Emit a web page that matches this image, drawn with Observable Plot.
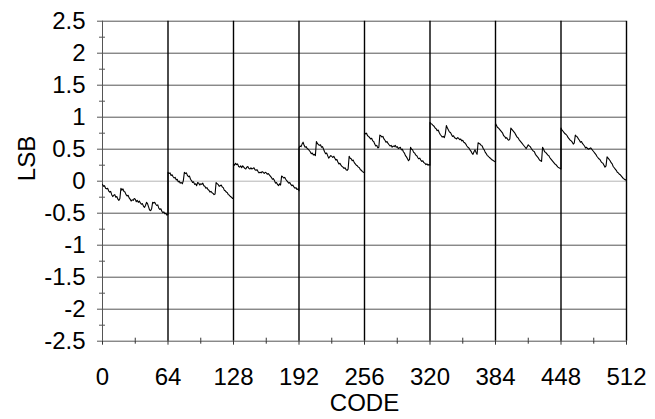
<!DOCTYPE html>
<html>
<head>
<meta charset="utf-8">
<script src="https://cdn.jsdelivr.net/npm/d3@7"></script>
<script src="https://cdn.jsdelivr.net/npm/@observablehq/plot@0.6"></script>
<style>
  html, body { margin: 0; padding: 0; background: #fff; }
</style>
</head>
<body>
<div id="chart"></div>
<script>
// LSB error per CODE; each segment covers 65 consecutive codes
const segStart = [0, 64, 128, 192, 256, 320, 384, 448];
const seg0 = [-0.05,-0.08,-0.07,-0.11,-0.12,-0.11,-0.15,-0.17,-0.16,-0.21,
  -0.24,-0.22,-0.21,-0.25,-0.24,-0.28,-0.30,-0.27,-0.11,-0.14,
  -0.12,-0.16,-0.17,-0.21,-0.23,-0.22,-0.26,-0.28,-0.31,-0.29,
  -0.30,-0.27,-0.28,-0.32,-0.30,-0.33,-0.31,-0.34,-0.36,-0.35,
  -0.39,-0.41,-0.38,-0.33,-0.35,-0.40,-0.45,-0.46,-0.43,-0.33,
  -0.34,-0.33,-0.36,-0.38,-0.37,-0.42,-0.44,-0.43,-0.47,-0.49,
  -0.48,-0.51,-0.50,-0.53,-0.52];
const seg1 = [0.14,0.12,0.13,0.09,0.10,0.07,0.05,0.06,0.02,0.03,
  -0.01,0.00,-0.03,-0.02,-0.04,0.01,0.14,0.12,0.13,0.09,
  0.07,0.08,0.03,0.01,-0.02,-0.01,-0.05,-0.04,-0.07,-0.02,
  -0.03,-0.06,-0.04,-0.05,-0.03,-0.07,-0.08,-0.11,-0.10,-0.13,
  -0.14,-0.17,-0.16,-0.18,-0.19,-0.21,-0.20,-0.02,-0.04,-0.05,
  -0.08,-0.07,-0.06,-0.09,-0.10,-0.14,-0.15,-0.17,-0.18,-0.21,
  -0.22,-0.24,-0.25,-0.27,-0.26];
const seg2 = [0.27,0.25,0.28,0.26,0.27,0.23,0.22,0.24,0.21,0.24,
  0.22,0.20,0.19,0.22,0.23,0.20,0.19,0.21,0.19,0.20,
  0.21,0.18,0.17,0.18,0.15,0.13,0.14,0.13,0.15,0.14,
  0.12,0.14,0.13,0.11,0.12,0.10,0.08,0.06,0.03,0.04,
  0.01,-0.03,-0.02,-0.05,-0.07,-0.04,-0.06,0.08,0.07,0.05,
  0.06,0.03,0.01,-0.01,-0.03,-0.02,-0.05,-0.07,-0.06,-0.09,
  -0.11,-0.10,-0.13,-0.12,-0.15];
const seg3 = [0.52,0.55,0.54,0.58,0.61,0.56,0.53,0.54,0.51,0.50,
  0.48,0.46,0.43,0.44,0.41,0.42,0.40,0.62,0.59,0.57,
  0.56,0.57,0.53,0.54,0.50,0.46,0.43,0.44,0.40,0.36,
  0.38,0.40,0.39,0.37,0.39,0.36,0.33,0.34,0.30,0.27,
  0.28,0.25,0.23,0.22,0.20,0.21,0.18,0.17,0.19,0.39,
  0.36,0.35,0.32,0.33,0.29,0.27,0.25,0.24,0.22,0.21,
  0.18,0.17,0.15,0.14,0.13];
const seg4 = [0.76,0.74,0.75,0.71,0.70,0.68,0.66,0.67,0.63,0.62,
  0.58,0.55,0.56,0.52,0.53,0.72,0.71,0.69,0.70,0.66,
  0.64,0.61,0.62,0.59,0.57,0.55,0.56,0.53,0.55,0.54,
  0.56,0.53,0.54,0.51,0.52,0.53,0.49,0.50,0.46,0.44,
  0.40,0.38,0.35,0.32,0.34,0.53,0.50,0.49,0.45,0.44,
  0.41,0.40,0.37,0.35,0.36,0.33,0.31,0.32,0.29,0.28,
  0.26,0.27,0.25,0.26,0.25];
const seg5 = [0.92,0.90,0.89,0.87,0.86,0.83,0.82,0.79,0.80,0.76,
  0.73,0.71,0.69,0.70,0.68,0.74,0.87,0.83,0.80,0.77,
  0.76,0.73,0.70,0.71,0.68,0.67,0.66,0.68,0.67,0.65,
  0.66,0.63,0.64,0.61,0.60,0.58,0.55,0.53,0.52,0.49,
  0.47,0.44,0.42,0.46,0.49,0.45,0.42,0.60,0.59,0.58,
  0.56,0.55,0.51,0.49,0.45,0.43,0.40,0.39,0.37,0.36,
  0.34,0.33,0.32,0.31,0.30];
const seg6 = [0.90,0.87,0.84,0.83,0.81,0.79,0.77,0.75,0.71,0.70,
  0.67,0.68,0.65,0.64,0.66,0.83,0.81,0.79,0.77,0.75,
  0.72,0.69,0.68,0.65,0.63,0.61,0.59,0.57,0.55,0.53,
  0.51,0.54,0.57,0.55,0.54,0.51,0.49,0.47,0.46,0.42,
  0.40,0.38,0.36,0.33,0.32,0.31,0.53,0.50,0.46,0.45,
  0.43,0.41,0.40,0.37,0.35,0.33,0.31,0.29,0.27,0.26,
  0.24,0.22,0.21,0.20,0.19];
const seg7 = [0.83,0.80,0.78,0.76,0.74,0.73,0.71,0.68,0.66,0.64,
  0.63,0.61,0.58,0.60,0.72,0.70,0.69,0.66,0.64,0.61,
  0.62,0.59,0.57,0.55,0.52,0.53,0.51,0.50,0.51,0.52,
  0.50,0.48,0.46,0.44,0.42,0.39,0.37,0.35,0.34,0.31,
  0.29,0.28,0.25,0.22,0.24,0.38,0.36,0.34,0.32,0.29,
  0.27,0.23,0.21,0.19,0.17,0.14,0.13,0.11,0.10,0.08,
  0.06,0.04,0.03,0.02,0.02];

const xTicks = [0, 64, 128, 192, 256, 320, 384, 448, 512];
const xMinor = [32, 96, 160, 224, 288, 352, 416, 480];
const yTicks = [-2.5, -2, -1.5, -1, -0.5, 0, 0.5, 1, 1.5, 2, 2.5];
const yMinor = [-2.25, -1.75, -1.25, -0.75, -0.25, 0.25, 0.75, 1.25, 1.75, 2.25];
const xLabel = "CODE";
const yLabel = "LSB";

const segments = [seg0, seg1, seg2, seg3, seg4, seg5, seg6, seg7];
const data = segments.flatMap((seg, s) => seg.map((v, i) => ({code: segStart[s] + i, lsb: v})));

const FS = 24;
const chart = Plot.plot({
  width: 655,
  height: 419,
  marginLeft: 102,
  marginRight: 29,
  marginTop: 20.7,
  marginBottom: 78.3,
  style: {fontFamily: "'Liberation Sans', Arial, sans-serif", fontSize: FS + "px", color: "#000", background: "#fff"},
  x: {domain: [0, 512]},
  y: {domain: [-2.5, 2.5]},
  marks: [
    Plot.gridY(yTicks.filter(d => d !== 0), {stroke: "#555", strokeOpacity: 1}),
    Plot.gridY([0], {stroke: "#b4b4b4", strokeOpacity: 1}),
    Plot.gridX(xTicks.filter(d => d !== 0), {stroke: "#000", strokeOpacity: 1, strokeWidth: 1.4}),
    Plot.gridX([0], {stroke: "#555", strokeOpacity: 1}),
    Plot.axisY(yTicks, {tickSize: 5, tickPadding: 12, tickFormat: d => String(d), label: null, stroke: "#555", fontSize: FS}),
    Plot.axisY(yMinor, {tickSize: 3, text: null, label: null, stroke: "#555"}),
    Plot.axisY(yMinor, {tickSize: -3, text: null, label: null, stroke: "#555"}),
    Plot.axisX(xTicks, {tickSize: 4, tickPadding: 23, tickFormat: d => String(d), label: null, stroke: "#333", fontSize: FS}),
    Plot.axisX(xMinor, {tickSize: 3, text: null, label: null, stroke: "#333"}),
    Plot.axisX(xMinor, {tickSize: -3, text: null, label: null, stroke: "#333"}),
    Plot.line(data, {x: "code", y: "lsb", stroke: "#000", strokeWidth: 1.1}),
    Plot.text([xLabel], {frameAnchor: "bottom", dy: 70, fontSize: FS}),
    Plot.text([yLabel], {frameAnchor: "left", dx: -75, rotate: -90, fontSize: FS})
  ]
});
document.getElementById("chart").appendChild(chart);
</script>
</body>
</html>
